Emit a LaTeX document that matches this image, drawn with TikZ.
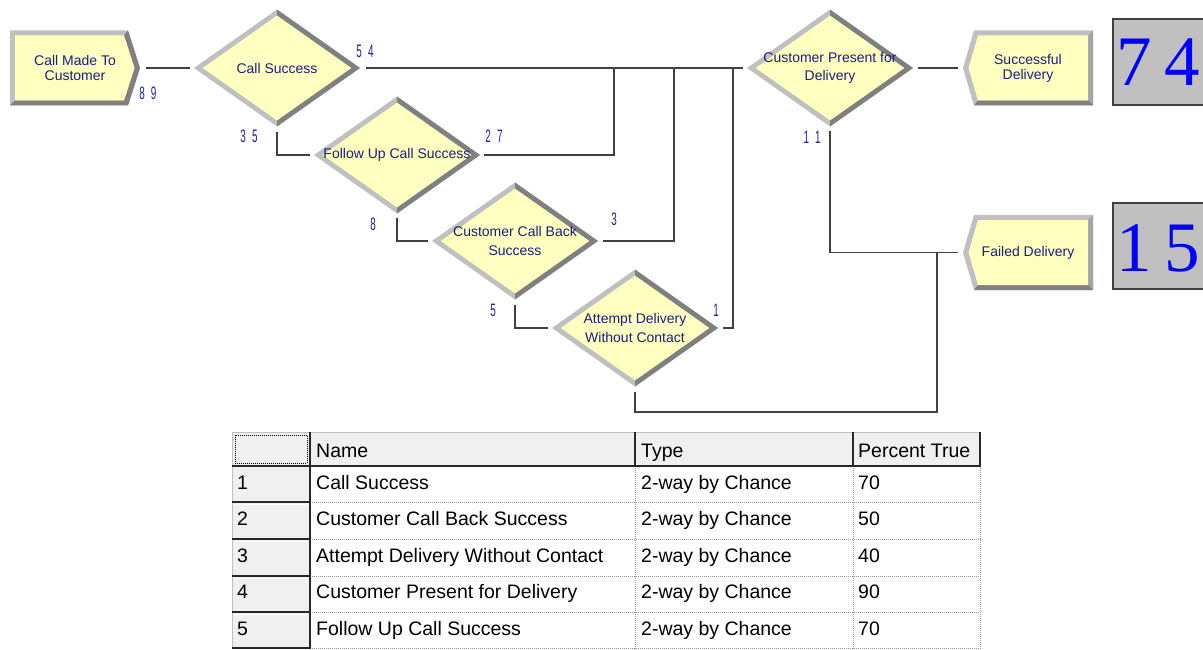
\documentclass[tikz,border=0pt]{standalone}
\usepackage{fontspec}
\setmainfont{Liberation Sans}
\newfontfamily\numfont[FakeStretch=0.55]{Liberation Sans}
\newfontfamily\cntfont{Liberation Serif}
\usetikzlibrary{shapes.geometric,calc}
\definecolor{yel}{RGB}{255,255,192}
\definecolor{lbev}{RGB}{192,192,192}
\definecolor{mbev}{RGB}{165,165,165}
\definecolor{dbev}{RGB}{128,128,128}
\definecolor{navy}{RGB}{28,28,130}
\definecolor{lblue}{RGB}{30,30,170}
\definecolor{conn}{RGB}{64,64,64}
\definecolor{cntbg}{RGB}{192,192,192}
\definecolor{cntfg}{RGB}{0,0,255}
\definecolor{hdr}{RGB}{240,240,240}
\definecolor{tdk}{RGB}{40,40,40}
\definecolor{dotc}{RGB}{150,150,150}
\tikzset{
  dec/.style={shape=diamond, minimum width=166pt, minimum height=117pt, inner sep=0pt, outer sep=0pt, draw=none},
  dtext/.style={align=center, font=\fontsize{14}{18.5}\selectfont, text=navy, inner sep=0pt},
  boxnode/.style={minimum width=130pt, minimum height=75pt, inner sep=0pt, outer sep=0pt, align=center, font=\fontsize{14}{15}\selectfont, text=navy},
  cntlbl/.style={font=\numfont\fontsize{18}{18}\selectfont, text=lblue, inner sep=0pt},
  conn/.style={draw=conn, line width=1.3pt},
  cnttext/.style={font=\cntfont\fontsize{71}{71}\selectfont, text=cntfg, inner sep=0pt, anchor=base},
  cntbox/.style={fill=cntbg, draw=conn, line width=1.5pt},
  tcell/.style={font=\fontsize{19.5}{20}\selectfont, text=black, inner sep=0pt, anchor=base west},
  dotline/.style={draw=dotc, line width=1pt, dash pattern=on 1pt off 1pt},
  tdark/.style={draw=tdk, line width=2pt},
  tlight/.style={draw=lbev, line width=1pt}
}
\newcommand\decisionshape[4]{%
  \node[dec] (#1) at (#2,#3) {};
  \fill[lbev] (#1.north) -- (#1.east) -- (#1.south) -- (#1.west) -- cycle;
  \fill[dbev] (#1.north) -- (#1.east) -- (#1.south) -- ($(#1.south)!0.105!(#1.center)$) -- ($(#1.east)!0.105!(#1.center)$) -- ($(#1.north)!0.105!(#1.center)$) -- cycle;
  \fill[yel] ($(#1.north)!0.105!(#1.center)$) -- ($(#1.east)!0.105!(#1.center)$) -- ($(#1.south)!0.105!(#1.center)$) -- ($(#1.west)!0.105!(#1.center)$) -- cycle;
  \node[dtext] (#1-t) at (#1.center) {#4};
}
\newcommand\createshape[4]{%
  \begin{scope}[shift={(#2,#3)}]
    \fill[lbev] (-65,-37.5) -- (53,-37.5) -- (65,0) -- (53,37.5) -- (-65,37.5) -- cycle;
    \fill[dbev] (53,-37.5) -- (65,0) -- (53,37.5) -- (-65,37.5) -- (-60,32.5) -- (49,32.5) -- (59.5,0) -- (49,-32.5) -- cycle;
    \fill[yel] (-60,-32.5) -- (49,-32.5) -- (59.5,0) -- (49,32.5) -- (-60,32.5) -- cycle;
  \end{scope}
  \node[boxnode] (#1) at (#2,#3) {#4};
}
\newcommand\disposeshape[4]{%
  \begin{scope}[shift={(#2,#3)}]
    \fill[lbev] (-54,-37.5) -- (65,-37.5) -- (65,37.5) -- (-54,37.5) -- (-65,0) -- cycle;
    \fill[mbev] (65,-37.5) -- (65,37.5) -- (60,32.5) -- (60,-32.5) -- cycle;
    \fill[dbev] (65,37.5) -- (-54,37.5) -- (-50,32.5) -- (60,32.5) -- cycle;
    \fill[yel] (-50,-32.5) -- (60,-32.5) -- (60,32.5) -- (-50,32.5) -- (-59.5,0) -- cycle;
  \end{scope}
  \node[boxnode] (#1) at (#2,#3) {#4};
}
\begin{document}
\begin{tikzpicture}[x=1pt,y=-1pt]
\useasboundingbox (0,0) rectangle (1203,650);
\fill[white] (0,0) rectangle (1203,650);
\clip (0,0) rectangle (1203,650);

% modules
\createshape{create}{75}{68}{Call Made To\\Customer}
\decisionshape{cs}{277}{68}{Call Success}
\decisionshape{fu}{397}{155}{Follow Up Call Success}
\decisionshape{ccb}{515}{241}{Customer Call Back\\Success}
\decisionshape{ad}{635}{328}{Attempt Delivery\\Without Contact}
\decisionshape{cp}{830}{68}{Customer Present for\\Delivery}
\disposeshape{succ}{1028}{68}{Successful\\Delivery}
\disposeshape{fail}{1028}{252.5}{Failed Delivery}

% junctions
\coordinate (j1) at (614,68);
\coordinate (j2) at (674,68);
\coordinate (j3) at (733,68);
\coordinate (j4) at (937,412);
\coordinate (j5) at (937,252.5);

% connectors
\draw[conn] ([xshift=6pt]create.east) -- ([xshift=-4pt]cs.west);
\draw[conn] ([xshift=6pt]cs.east) -- ([xshift=-4pt]cp.west);
\draw[conn] ([xshift=4pt]fu.east) -| (j1);
\draw[conn] ([xshift=5pt]ccb.east) -| (j2);
\draw[conn] ([xshift=5pt]ad.east) -| (j3);
\draw[conn] ([yshift=-6pt]cs.south) |- ([xshift=-4pt]fu.west);
\draw[conn] ([yshift=-4pt]fu.south) |- ([xshift=-4pt]ccb.west);
\draw[conn] ([yshift=-5pt]ccb.south) |- ([xshift=-4pt]ad.west);
\draw[conn] ([yshift=-5pt]ad.south) |- (j4) -- (j5);
\draw[conn] ([yshift=-5pt]cp.south) |- ([xshift=-5pt]fail.west);
\draw[conn] ([xshift=5pt]cp.east) -- ([xshift=-5pt]succ.west);

% count labels
\node[cntlbl] (n89) at (148,93) {8\kern6pt9};
\node[cntlbl] (n54) at (365,51) {5\kern6pt4};
\node[cntlbl] (n35) at (249,136) {3\kern6pt5};
\node[cntlbl] (n27) at (494,136) {2\kern6pt7};
\node[cntlbl] (n8) at (373,224) {8};
\node[cntlbl] (n3) at (614,219) {3};
\node[cntlbl] (n5) at (493,310) {5};
\node[cntlbl] (n1) at (716,310) {1};
\node[cntlbl] (n11) at (812,137) {1\kern6pt1};

% counters
\path[cntbox] (1113,19) rectangle (1220,105);
\node[cnttext] (c74) at (1158,86) {7\kern12pt4};
\path[cntbox] (1113,203) rectangle (1220,289);
\node[cnttext] (c15) at (1158,271) {1\kern12pt5};

% table
\fill[hdr] (232,432) rectangle (981,466);
\fill[hdr] (232,466) rectangle (310,649);
\foreach \y in {502,539,576,612,648.5} \draw[dotline] (310,\y) -- (981,\y);
\foreach \x in {635,853,980.5} \draw[dotline] (\x,466) -- (\x,649);
\draw[tlight] (232,432) -- (981,432);
\draw[tlight] (232.5,432) -- (232.5,649);
\foreach \y in {502,539,576,612,648} {
  \draw[tdark] (232,\y) -- (310,\y);
  \draw[white, line width=1pt] (234,\y+2) -- (308,\y+2);
}
\draw[tdark] (232,466) -- (981,466);
\draw[tdark] (310,432) -- (310,649);
\draw[tdark] (635,432) -- (635,466);
\draw[tdark] (853,432) -- (853,466);
\draw[tdark] (980,432) -- (980,466);
\draw[black, line width=1pt, dash pattern=on 1pt off 1pt] (235,435) rectangle (307,463);

\node[tcell] (h1) at (316,457) {Name};
\node[tcell] (h2) at (641,457) {Type};
\node[tcell] (h3) at (858,457) {Percent True};

\foreach \i/\n/\p [count=\k] in {1/Call Success/70, 2/Customer Call Back Success/50, 3/Attempt Delivery Without Contact/40, 4/Customer Present for Delivery/90, 5/Follow Up Call Success/70} {
  \pgfmathsetmacro\yy{466+36.6*(\k-1)+23}
  \node[tcell] (r\k a) at (237,\yy) {\i};
  \node[tcell] (r\k b) at (316,\yy) {\n};
  \node[tcell] (r\k c) at (641,\yy) {2-way by Chance};
  \node[tcell] (r\k d) at (858,\yy) {\p};
}
\end{tikzpicture}
\end{document}
